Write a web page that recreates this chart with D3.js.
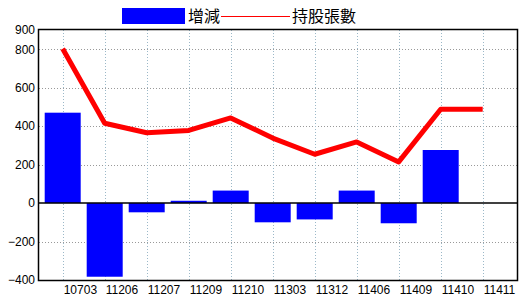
<!DOCTYPE html>
<html>
<head>
<meta charset="utf-8">
<script src="https://cdn.jsdelivr.net/npm/d3@7"></script>
<style>
  body { margin: 0; background: #fff; }
  svg { display: block; font-family: "Liberation Sans", Arial, sans-serif; }
</style>
</head>
<body>
<div id="chart"></div>
<script>
// data
const months = ["10703", "11206", "11207", "11209", "11210", "11303", "11312", "11406", "11409", "11410", "11411"];
const change = [470, -383, -48, 12, 65, -100, -85, 65, -105, 276, 0];
const holding = [803, 415, 366, 378, 443, 338, 254, 318, 214, 488, 488];
const yTicks = [900, 800, 600, 400, 200, 0, -200, -400];

const width = 520, height = 300;
const plot = { left: 39, right: 517, top: 30, bottom: 280 };

const svg = d3.select("#chart").append("svg")
  .attr("width", width)
  .attr("height", height);

const x = d3.scaleBand()
  .domain(months)
  .range([41.7, 503.7])
  .padding(0);

const y = d3.scaleLinear()
  .domain([-400, 900])
  .range([plot.bottom, plot.top]);

// horizontal grid
svg.append("g")
  .selectAll("line")
  .data(yTicks.filter(d => d !== 0 && d !== 900 && d !== -400))
  .enter().append("line")
  .attr("x1", plot.left).attr("x2", plot.right)
  .attr("y1", d => Math.round(y(d)) + 0.5)
  .attr("y2", d => Math.round(y(d)) + 0.5)
  .style("stroke", "#999")
  .style("stroke-dasharray", "1,2");

// vertical grid
svg.append("g")
  .selectAll("line")
  .data(months)
  .enter().append("line")
  .attr("x1", d => Math.round(x(d) + x.bandwidth() / 2) + 0.5)
  .attr("x2", d => Math.round(x(d) + x.bandwidth() / 2) + 0.5)
  .attr("y1", plot.top).attr("y2", plot.bottom)
  .style("stroke", "#9bb8c8")
  .style("stroke-dasharray", "1,2");

// bars
svg.append("g")
  .selectAll("rect")
  .data(months)
  .enter().append("rect")
  .attr("x", d => x(d) + 3)
  .attr("width", x.bandwidth() - 6)
  .attr("y", (d, i) => y(Math.max(0, change[i])))
  .attr("height", (d, i) => Math.abs(y(change[i]) - y(0)))
  .style("fill", "#0000ff");

// zero line
svg.append("line")
  .attr("x1", plot.left).attr("x2", plot.right)
  .attr("y1", y(0)).attr("y2", y(0))
  .style("stroke", "#000")
  .style("stroke-width", 1.5);

// holding line
const line = d3.line()
  .x((d, i) => x(months[i]) + x.bandwidth() / 2)
  .y(d => y(d));

svg.append("path")
  .datum(holding)
  .attr("d", line)
  .style("fill", "none")
  .style("stroke", "#ff0000")
  .style("stroke-width", 5)
  .style("stroke-linejoin", "round");

// frame
svg.append("rect")
  .attr("x", plot.left - 0.5).attr("y", plot.top - 0.5)
  .attr("width", plot.right - plot.left + 1).attr("height", plot.bottom - plot.top + 1)
  .style("fill", "none")
  .style("stroke", "#000")
  .style("stroke-width", 1.5);

// y axis labels
const yAxis = d3.axisLeft(y).tickValues(yTicks).tickSize(0).tickPadding(4);
svg.append("g")
  .attr("transform", `translate(${plot.left},0)`)
  .call(yAxis)
  .call(g => g.select(".domain").remove())
  .selectAll("text")
  .style("font-size", "12px")
  .style("fill", "#000");

// x axis labels
const xAxis = d3.axisBottom(x).tickSize(0).tickPadding(5);
svg.append("g")
  .attr("transform", `translate(0,${plot.bottom})`)
  .call(xAxis)
  .call(g => g.select(".domain").remove())
  .selectAll("text")
  .attr("text-anchor", "start")
  .attr("dx", 1)
  .style("font-size", "12px")
  .style("fill", "#000");

// legend
const legend = svg.append("g");
legend.append("rect")
  .attr("x", 122).attr("y", 8)
  .attr("width", 63).attr("height", 16)
  .style("fill", "#0000ff");
legend.append("text")
  .attr("x", 188).attr("y", 22)
  .style("font-family", "'Noto Sans CJK TC', sans-serif")
  .style("font-size", "16px")
  .text("增減");
legend.append("line")
  .attr("x1", 221).attr("x2", 290)
  .attr("y1", 16.5).attr("y2", 16.5)
  .style("stroke", "#ff0000")
  .style("stroke-width", 1);
legend.append("text")
  .attr("x", 292).attr("y", 22)
  .style("font-family", "'Noto Sans CJK TC', sans-serif")
  .style("font-size", "16px")
  .text("持股張數");
</script>
</body>
</html>
